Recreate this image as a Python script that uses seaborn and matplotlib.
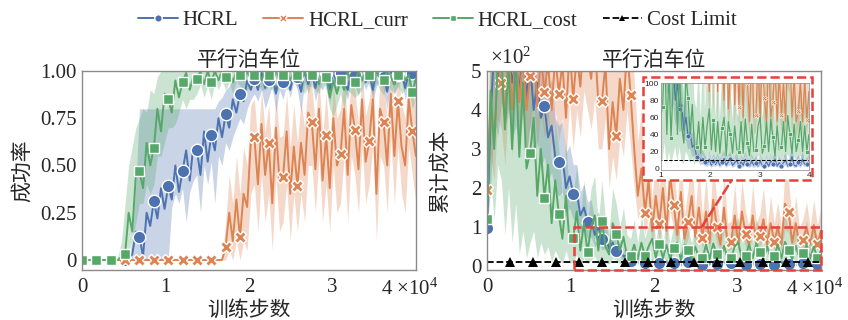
import numpy as np
import pandas as pd
import matplotlib
matplotlib.use("Agg")
import matplotlib.pyplot as plt
import matplotlib.transforms as mtransforms
import seaborn as sns
from matplotlib.patches import Rectangle, ConnectionPatch

# ---------------- data ----------------
STEP = 430
steps = np.arange(94) * STEP          # training steps
cost_limit_steps = np.arange(0, 40001, 50)
COST_LIMIT = 10.0

series_names = ["HCRL", "HCRL_curr", "HCRL_cost"]

# success rate (left)
succ_hcrl = [0, 0, 0, 0, 0, 0, 0, 0, 0, 0,
             0, 0, 0, 0, 0.03, 0.15, 0.12, 0.02, 0.25, 0.18,
             0.31, 0.22, 0.38, 0.27, 0.39, 0.32, 0.50, 0.36, 0.47, 0.58,
             0.42, 0.60, 0.58, 0.45, 0.68, 0.52, 0.66, 0.58, 0.75, 0.65,
             0.77, 0.70, 0.85, 0.78, 0.88, 0.84, 0.95, 0.90, 0.96, 0.90,
             0.99, 0.91, 0.95, 1.00, 0.88, 0.98, 0.94, 1.00, 0.90, 0.99,
             0.97, 0.89, 1.00, 0.93, 0.99, 0.91, 1.00, 0.94, 0.99, 0.90,
             1.00, 0.93, 0.99, 0.95, 0.90, 1.00, 0.98, 0.92, 1.00, 0.94,
             0.99, 0.90, 1.00, 0.96, 0.97, 0.89, 1.00, 0.93, 0.98, 1.00,
             0.91, 0.99, 0.99, 0.94]
succ_hcrl_lo = [0, 0, 0, 0, 0, 0, 0, 0, 0, 0,
                0, 0, 0, 0, 0, 0, 0, 0, 0, 0,
                0, 0, 0, 0, 0, 0.28, 0.35, 0.30, 0.38, 0.20,
                0.36, 0.42, 0.45, 0.25, 0.50, 0.40, 0.52, 0.30, 0.55, 0.50,
                0.62, 0.58, 0.65, 0.70, 0.75, 0.72, 0.80, 0.85, 0.88, 0.84,
                0.90, 0.80, 0.86, 0.92, 0.78, 0.90, 0.85, 0.93, 0.86, 0.95,
                0.90, 0.78, 0.94, 0.88, 0.95, 0.84, 0.92, 0.90, 0.95, 0.82,
                0.93, 0.88, 0.95, 0.90, 0.85, 0.95, 0.92, 0.87, 0.96, 0.90,
                0.95, 0.84, 0.92, 0.95, 0.90, 0.80, 0.95, 0.88, 0.93, 0.95,
                0.85, 0.92, 0.95, 0.90]
succ_hcrl_hi = [0, 0, 0, 0, 0, 0, 0, 0, 0, 0,
                0, 0, 0, 0.02, 0.10, 0.40, 0.80, 0.80, 0.80, 0.80,
                0.80, 0.80, 0.80, 0.80, 0.80, 0.80, 0.80, 0.80, 0.80, 0.80,
                0.80, 0.80, 0.80, 0.80, 0.80, 0.80, 0.80, 0.80, 0.84, 0.86,
                0.90, 0.92, 0.95, 0.97, 1, 1, 1, 1, 1, 1,
                1, 1, 1, 1, 1, 1, 1, 1, 1, 1,
                1, 1, 1, 1, 1, 1, 1, 1, 1, 1,
                1, 1, 1, 1, 1, 1, 1, 1, 1, 1,
                1, 1, 1, 1, 1, 1, 1, 1, 1, 1,
                1, 1, 1, 1]

succ_curr = [0, 0, 0, 0, 0, 0, 0, 0, 0, 0,
             0, 0, 0, 0, 0, 0, 0, 0, 0, 0,
             0, 0, 0, 0, 0, 0, 0, 0, 0, 0,
             0, 0, 0, 0, 0, 0, 0, 0, 0, 0,
             0.07, 0.25, 0.10, 0.32, 0.12, 0.35, 0.28, 0.62, 0.65, 0.40,
             0.72, 0.45, 0.62, 0.30, 0.70, 0.42, 0.44, 0.68, 0.35, 0.60,
             0.39, 0.62, 0.45, 0.78, 0.73, 0.48, 0.80, 0.42, 0.66, 0.38,
             0.75, 0.50, 0.56, 0.80, 0.45, 0.82, 0.69, 0.48, 0.85, 0.52,
             0.63, 0.85, 0.35, 0.80, 0.73, 0.50, 0.88, 0.55, 0.84, 0.60,
             0.50, 0.85, 0.68, 0.55]
succ_curr_lo = [0, 0, 0, 0, 0, 0, 0, 0, 0, 0,
                0, 0, 0, 0, 0, 0, 0, 0, 0, 0,
                0, 0, 0, 0, 0, 0, 0, 0, 0, 0,
                0, 0, 0, 0, 0, 0, 0, 0, 0, 0,
                0, 0.05, 0, 0.10, 0, 0.10, 0.05, 0.35, 0.40, 0.15,
                0.45, 0.20, 0.35, 0.05, 0.45, 0.15, 0.20, 0.40, 0.10, 0.35,
                0.15, 0.35, 0.20, 0.50, 0.50, 0.25, 0.55, 0.20, 0.40, 0.15,
                0.50, 0.25, 0.30, 0.55, 0.20, 0.55, 0.45, 0.25, 0.60, 0.30,
                0.40, 0.60, 0.10, 0.55, 0.50, 0.25, 0.65, 0.30, 0.60, 0.35,
                0.25, 0.60, 0.45, 0.30]
succ_curr_hi = [0, 0, 0, 0, 0, 0, 0, 0, 0, 0,
                0, 0, 0, 0, 0, 0, 0, 0, 0, 0,
                0, 0, 0, 0, 0, 0, 0, 0, 0, 0,
                0, 0, 0, 0, 0, 0, 0, 0, 0, 0,
                0.20, 0.45, 0.30, 0.55, 0.35, 0.60, 0.50, 0.82, 0.85, 0.62,
                0.90, 0.68, 0.82, 0.55, 0.88, 0.65, 0.66, 0.88, 0.60, 0.82,
                0.62, 0.84, 0.70, 0.95, 0.92, 0.72, 0.97, 0.66, 0.88, 0.62,
                0.93, 0.75, 0.80, 0.97, 0.70, 0.98, 0.90, 0.72, 0.99, 0.76,
                0.85, 0.99, 0.60, 0.97, 0.94, 0.75, 1.00, 0.80, 0.99, 0.83,
                0.75, 0.99, 0.90, 0.80]

succ_cost = [0, 0, 0, 0, 0, 0, 0, 0, 0, 0,
             0, 0.02, 0.03, 0.25, 0.15, 0.45, 0.47, 0.38, 0.62, 0.50,
             0.59, 0.80, 0.68, 0.88, 0.85, 0.78, 0.95, 0.86, 0.94, 0.99,
             0.90, 0.97, 0.96, 1.00, 0.93, 1.00, 0.94, 1.00, 0.95, 1.00,
             0.97, 1.00, 0.94, 1.00, 0.98, 0.95, 1.00, 0.96, 0.98, 1.00,
             0.95, 1.00, 0.98, 0.94, 1.00, 0.96, 0.98, 1.00, 0.95, 1.00,
             0.98, 0.94, 1.00, 0.96, 0.98, 1.00, 0.93, 0.99, 0.97, 0.86,
             0.95, 0.88, 0.95, 0.90, 1.00, 0.93, 0.94, 1.00, 0.95, 1.00,
             0.98, 0.94, 1.00, 0.96, 0.95, 1.00, 0.97, 0.93, 0.98, 1.00,
             0.95, 0.98, 0.89, 0.96]
succ_cost_lo = [0, 0, 0, 0, 0, 0, 0, 0, 0, 0,
                0, 0, 0, 0.05, 0.10, 0.20, 0.30, 0.30, 0.40, 0.35,
                0.40, 0.55, 0.55, 0.62, 0.70, 0.70, 0.72, 0.78, 0.85, 0.80,
                0.85, 0.85, 0.88, 0.93, 0.86, 0.92, 0.85, 0.94, 0.90, 0.95,
                0.90, 0.94, 0.88, 0.95, 0.92, 0.90, 0.90, 0.92, 0.92, 0.94,
                0.90, 0.90, 0.92, 0.90, 0.88, 0.92, 0.92, 0.90, 0.92, 0.94,
                0.92, 0.90, 0.88, 0.92, 0.92, 0.90, 0.88, 0.95, 0.90, 0.80,
                0.76, 0.82, 0.88, 0.80, 0.90, 0.88, 0.86, 0.88, 0.90, 0.95,
                0.92, 0.88, 0.94, 0.90, 0.87, 0.94, 0.90, 0.88, 0.92, 0.88,
                0.90, 0.90, 0.80, 0.85]
succ_cost_hi = [0, 0, 0, 0, 0, 0, 0, 0, 0, 0,
                0.02, 0.10, 0.30, 0.50, 0.60, 0.70, 0.75, 0.80, 0.78, 0.90,
                0.88, 0.97, 1, 1, 1, 1, 1, 1, 1, 1,
                1, 1, 1, 1, 1, 1, 1, 1, 1, 1,
                1, 1, 1, 1, 1, 1, 1, 1, 1, 1,
                1, 1, 1, 1, 1, 1, 1, 1, 1, 1,
                1, 1, 1, 1, 1, 1, 1, 1, 1, 1,
                1, 1, 1, 1, 1, 1, 1, 1, 1, 1,
                1, 1, 1, 1, 1, 1, 1, 1, 1, 1,
                1, 1, 1, 1]

# cumulative cost (right)
cost_hcrl = [97, 380, 560, 480, 600, 520, 560, 470, 520, 450,
             560, 430, 520, 400, 470, 380, 410, 330, 360, 280,
             268, 280, 200, 230, 185, 190, 130, 150, 114, 120,
             80, 100, 70, 75, 45, 60, 38, 42, 25, 28,
             14, 16, 9, 12, 8, 5, 11, 4, 9, 5,
             10, 4, 8, 12, 4, 8, 11, 4, 7, 10,
             3, 8, 4, 11, 6, 3, 9, 4, 7, 3,
             9, 4, 3, 8, 3, 9, 5, 11, 3, 7,
             3, 7, 10, 3, 6, 14, 4, 3, 8, 4,
             11, 5, 5, 8]
cost_hcrl_lo = [90, 200, 380, 330, 420, 360, 400, 320, 360, 300,
                400, 290, 360, 270, 320, 250, 280, 220, 240, 190,
                180, 190, 130, 150, 120, 125, 85, 95, 70, 75,
                50, 60, 42, 45, 28, 35, 22, 24, 14, 15,
                7, 8, 4, 5, 3, 2, 4, 1, 3, 2,
                4, 1, 3, 5, 1, 3, 4, 1, 2, 4,
                1, 3, 1, 4, 2, 1, 3, 1, 2, 1,
                3, 1, 1, 3, 1, 3, 2, 4, 1, 2,
                1, 2, 4, 1, 2, 6, 1, 1, 3, 1,
                4, 2, 2, 3]
cost_hcrl_hi = [105, 560, 700, 700, 700, 700, 700, 700, 700, 700,
                700, 600, 680, 560, 620, 520, 540, 450, 480, 380,
                360, 370, 290, 310, 260, 260, 190, 210, 165, 170,
                120, 140, 105, 110, 70, 85, 60, 62, 42, 44,
                26, 28, 18, 22, 16, 12, 20, 11, 17, 12,
                18, 11, 16, 22, 11, 16, 20, 11, 14, 18,
                10, 16, 11, 20, 13, 10, 17, 11, 15, 10,
                17, 11, 10, 16, 10, 17, 12, 20, 10, 14,
                10, 14, 18, 10, 13, 24, 11, 10, 16, 11,
                20, 12, 12, 16]

cost_curr = [194, 420, 320, 520, 470, 380, 560, 400, 560, 420,
             540, 400, 487, 560, 410, 540, 446, 520, 400, 540,
             442, 520, 380, 560, 428, 540, 460, 600, 540, 480,
             580, 420, 422, 520, 300, 420, 333, 480, 400, 560,
             438, 300, 180, 250, 137, 220, 90, 180, 109, 200,
             90, 230, 157, 80, 190, 70, 114, 180, 75, 150,
             72, 140, 60, 170, 101, 55, 150, 60, 63, 130,
             55, 140, 82, 55, 130, 60, 78, 120, 55, 110,
             63, 100, 55, 160, 139, 60, 110, 55, 67, 100,
             55, 105, 57, 90]
cost_curr_lo = [150, 280, 220, 380, 350, 260, 420, 280, 430, 300,
                400, 280, 360, 420, 300, 400, 330, 380, 290, 400,
                320, 380, 270, 420, 300, 400, 330, 450, 400, 350,
                430, 300, 300, 380, 200, 280, 220, 330, 280, 400,
                300, 200, 120, 150, 80, 130, 55, 110, 65, 120,
                55, 140, 95, 50, 110, 45, 70, 110, 48, 90,
                45, 85, 40, 100, 60, 38, 90, 40, 42, 80,
                38, 85, 50, 38, 80, 40, 50, 75, 38, 70,
                42, 62, 38, 95, 85, 40, 68, 38, 45, 62,
                38, 65, 40, 58]
cost_curr_hi = [260, 700, 600, 700, 700, 650, 700, 700, 700, 700,
                700, 700, 700, 700, 700, 700, 700, 700, 700, 700,
                700, 700, 700, 700, 700, 700, 700, 700, 700, 700,
                700, 700, 700, 700, 560, 700, 600, 700, 700, 700,
                620, 480, 320, 400, 250, 350, 170, 300, 200, 320,
                170, 350, 260, 150, 300, 130, 200, 290, 140, 250,
                130, 230, 110, 270, 170, 100, 240, 110, 115, 210,
                100, 220, 140, 100, 210, 110, 135, 200, 100, 180,
                110, 165, 100, 250, 220, 110, 180, 100, 120, 165,
                100, 170, 105, 150]

cost_cost = [120, 450, 300, 520, 540, 350, 510, 300, 530, 280,
             470, 250, 290, 380, 180, 300, 175, 260, 110, 220,
             133, 70, 180, 60, 72, 140, 40, 110, 36, 100,
             130, 40, 116, 50, 30, 110, 82, 40, 75, 25,
             25, 55, 18, 60, 25, 50, 70, 22, 57, 20,
             55, 18, 47, 60, 15, 55, 40, 18, 50, 22,
             20, 55, 18, 58, 30, 15, 52, 20, 22, 50,
             60, 18, 27, 55, 20, 58, 37, 15, 50, 22,
             25, 55, 20, 62, 40, 18, 52, 20, 33, 55,
             20, 50, 20, 40]
cost_cost_lo = [100, 220, 120, 260, 220, 80, 200, 60, 160, 30,
                90, 20, 60, 90, 20, 60, 30, 50, 10, 40,
                20, 8, 40, 8, 10, 30, 5, 20, 5, 15,
                25, 8, 25, 8, 5, 20, 15, 6, 12, 4,
                10, 14, 8, 16, 10, 14, 18, 9, 15, 8,
                15, 8, 14, 16, 7, 15, 12, 8, 14, 9,
                9, 15, 8, 16, 11, 7, 14, 9, 9, 14,
                16, 8, 10, 15, 9, 16, 12, 7, 14, 9,
                10, 15, 9, 17, 12, 8, 14, 9, 11, 15,
                9, 14, 9, 12]
cost_cost_hi = [140, 700, 600, 700, 700, 650, 700, 600, 700, 560,
                700, 500, 500, 560, 380, 480, 350, 420, 260, 380,
                300, 180, 320, 160, 180, 260, 120, 220, 110, 200,
                230, 110, 220, 120, 90, 200, 160, 100, 150, 80,
                70, 120, 60, 130, 70, 110, 140, 65, 120, 60,
                115, 58, 105, 125, 55, 115, 95, 58, 110, 65,
                60, 115, 58, 120, 80, 55, 110, 62, 65, 108,
                125, 60, 75, 115, 62, 120, 90, 55, 108, 65,
                70, 115, 62, 130, 95, 58, 110, 62, 85, 115,
                62, 108, 60, 95]

# ---------------- style ----------------
sns.set_theme(style="white")
plt.rcParams["font.family"] = ["Liberation Serif", "Noto Sans CJK SC", "DejaVu Sans"]
plt.rcParams["mathtext.fontset"] = "custom"
plt.rcParams["mathtext.rm"] = "Liberation Serif"
plt.rcParams["mathtext.it"] = "Liberation Serif:italic"
plt.rcParams["axes.edgecolor"] = "#8a8a8a"
plt.rcParams["axes.linewidth"] = 1.0

pal = sns.color_palette("deep")
C_BLUE, C_ORANGE, C_GREEN = pal[0], pal[1], pal[2]
RED = "#e8403a"
colors = [C_BLUE, C_ORANGE, C_GREEN]
markers = ["o", "X", "s"]
msizes = [9, 9, 7.5]

W, H = 848, 320
fig = plt.figure(figsize=(W / 100, H / 100), dpi=100)
ax1 = fig.add_axes([82 / W, 50 / H, 334 / W, 199 / H])
ax2 = fig.add_axes([487 / W, 50 / H, 334 / W, 199 / H])


def draw(ax, means, los, his, lw=1.4, ms_scale=1.0, band_alpha=0.3):
    handles = []
    for name, m, lo, hi, c, mk, msz in zip(series_names, means, los, his,
                                          colors, markers, msizes):
        df = pd.DataFrame({"step": steps, "value": m})
        ax.fill_between(steps, lo, hi, color=c, alpha=band_alpha, linewidth=0)
        sns.lineplot(data=df, x="step", y="value", ax=ax, color=c, lw=lw,
                     marker=mk, markevery=4, markersize=msz * ms_scale,
                     markeredgecolor="white", markeredgewidth=1.0 * ms_scale,
                     label=name, legend=False, errorbar=None)
        handles.append(ax.get_lines()[-1])
    return handles


# ---- left: success rate ----
h = draw(ax1, [succ_hcrl, succ_curr, succ_cost],
         [succ_hcrl_lo, succ_curr_lo, succ_cost_lo],
         [succ_hcrl_hi, succ_curr_hi, succ_cost_hi])
ax1.set_xlim(0, 40000)
ax1.set_ylim(-0.053, 1.0)
ax1.set_yticks([0, 0.25, 0.5, 0.75, 1.0])
ax1.set_yticklabels(["0", "0.25", "0.50", "0.75", "1.00"])

# ---- right: cumulative cost ----
draw(ax2, [cost_hcrl, cost_curr, cost_cost],
     [cost_hcrl_lo, cost_curr_lo, cost_cost_lo],
     [cost_hcrl_hi, cost_curr_hi, cost_cost_hi])
cl_df = pd.DataFrame({"step": cost_limit_steps,
                      "value": np.full(len(cost_limit_steps), COST_LIMIT)})
sns.lineplot(data=cl_df, x="step", y="value", ax=ax2, color="black", lw=1.3,
             linestyle="--", marker="^", markevery=(55, 55), markersize=7,
             markeredgewidth=0, label="Cost Limit", legend=False, errorbar=None)
h.append(ax2.get_lines()[-1])
ax2.set_xlim(0, 40000)
ax2.set_ylim(-10, 500)
ax2.set_yticks([0, 100, 200, 300, 400, 500])
ax2.set_yticklabels(["0", "1", "2", "3", "4", "5"])
ax2.text(0.01, 1.01, "×10$^{2}$", transform=ax2.transAxes,
         ha="left", va="bottom", fontsize=15)

shift = mtransforms.ScaledTranslation(-6 / 100, 0, fig.dpi_scale_trans)
for ax, yl, lx in [(ax1, "成功率", -0.147), (ax2, "累计成本", -0.108)]:
    ax.set_xticks([0, 10000, 20000, 30000, 40000])
    ax.set_xticklabels(["0", "1", "2", "3", "4 ×10$^{4}$"])
    ax.tick_params(axis="both", length=0, labelsize=15, pad=4)
    ax.tick_params(axis="x", pad=6)
    last = ax.get_xticklabels()[-1]
    last.set_transform(last.get_transform() + shift)
    ax.set_title("平行泊车位", fontsize=15, pad=4)
    ax.set_xlabel("训练步数", fontsize=15, labelpad=1)
    ax.set_ylabel(yl, fontsize=15)
    ax.yaxis.set_label_coords(lx, 0.5)

# zoom region + inset frame
ax2.add_patch(Rectangle((10400, -10), 40000 - 10400, 110, fill=False,
                        ec=RED, ls="--", lw=1.8, zorder=6, clip_on=False))
ax2.add_patch(Rectangle((0.467, 0.452), 0.506, 0.518, transform=ax2.transAxes,
                        fc="white", ec=RED, ls="--", lw=1.8, zorder=7))
con = ConnectionPatch(xyA=(25700, 100), coordsA=ax2.transData,
                      xyB=(0.733, 0.452), coordsB=ax2.transAxes,
                      color=RED, ls="--", lw=1.8, zorder=7)
ax2.add_artist(con)

axin = fig.add_axes([661 / W, 150 / H, 148 / W, 87 / H])
draw(axin, [cost_hcrl, cost_curr, cost_cost],
     [cost_hcrl_lo, cost_curr_lo, cost_cost_lo],
     [cost_hcrl_hi, cost_curr_hi, cost_cost_hi],
     lw=0.9, ms_scale=0.4, band_alpha=0.3)
sns.lineplot(data=cl_df, x="step", y="value", ax=axin, color="black", lw=0.7,
             linestyle="--", legend=False, errorbar=None)
axin.set_xlim(10000, 40000)
axin.set_ylim(-1.5, 100)
axin.set_xticks([10000, 20000, 30000, 40000])
axin.set_xticklabels(["1", "2", "3", "4"])
axin.set_yticks([0, 20, 40, 60, 80, 100])
axin.set_yticklabels(["0", "20", "40", "60", "80", "100"])
axin.tick_params(length=0, labelsize=6, pad=1.5)
for t in axin.get_xticklabels() + axin.get_yticklabels():
    t.set_family("Liberation Sans")
axin.set_xlabel("")
axin.set_ylabel("")
for s in axin.spines.values():
    s.set_color("#999999")
    s.set_linewidth(0.6)

# legend
fig.legend(h, ["HCRL", "HCRL_curr", "HCRL_cost", "Cost Limit"],
           loc="center", bbox_to_anchor=(0.516, 0.9375), ncol=4,
           frameon=False, fontsize=15, handlelength=1.9, handletextpad=0.25,
           columnspacing=1.2, markerscale=0.6)

fig.savefig("out.png", dpi=100)
